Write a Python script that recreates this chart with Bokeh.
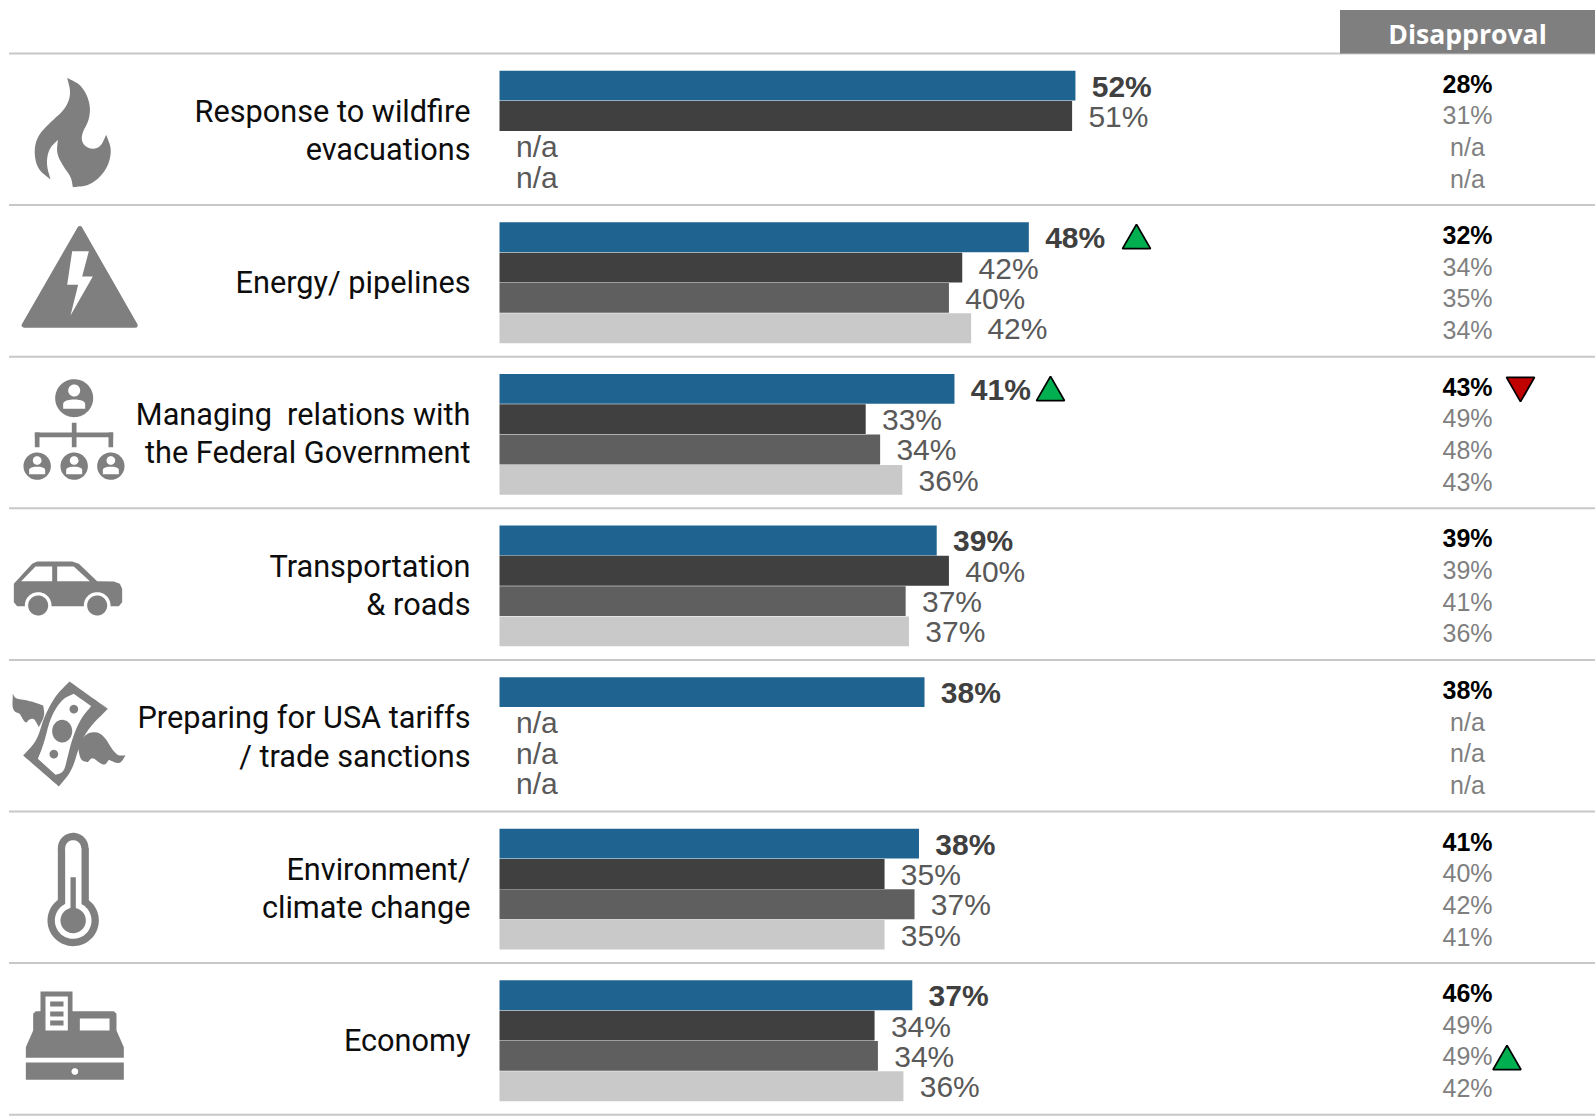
import numpy as np
from bokeh.plotting import figure
from bokeh.models import Range1d
from bokeh.core.properties import value
from bokeh.embed import file_html
from bokeh.resources import INLINE

# ---- data ----
topics = [
    ["Response to wildfire", "evacuations"],
    ["Energy/ pipelines"],
    ["Managing\u00a0 relations with", "the Federal Government"],
    ["Transportation", "& roads"],
    ["Preparing for USA tariffs", "/ trade sanctions"],
    ["Environment/", "climate change"],
    ["Economy"],
]
approval_bars = [
    [51.9, 51.6, None, None],
    [47.7, 41.7, 40.5, 42.5],
    [41.0, 33.0, 34.3, 36.3],
    [39.4, 40.5, 36.6, 36.9],
    [38.3, None, None, None],
    [37.8, 34.7, 37.4, 34.7],
    [37.2, 33.8, 34.1, 36.4],
]
approval_labels = [
    ["52%", "51%", "n/a", "n/a"],
    ["48%", "42%", "40%", "42%"],
    ["41%", "33%", "34%", "36%"],
    ["39%", "40%", "37%", "37%"],
    ["38%", "n/a", "n/a", "n/a"],
    ["38%", "35%", "37%", "35%"],
    ["37%", "34%", "34%", "36%"],
]
disapproval_labels = [
    ["28%", "31%", "n/a", "n/a"],
    ["32%", "34%", "35%", "34%"],
    ["43%", "49%", "48%", "43%"],
    ["39%", "39%", "41%", "36%"],
    ["38%", "n/a", "n/a", "n/a"],
    ["41%", "40%", "42%", "41%"],
    ["46%", "49%", "49%", "42%"],
]
series_colors = ["#1F6391", "#404040", "#5F5F5F", "#C9C9C9"]
header_text = "Disapproval"

# ---- layout helpers (page pixels <-> data) ----
W, H = 1595, 1117
ORIGIN = 0
PX_PER_PCT = 11.097
X0 = 499.0
ROW_TOP = 53.0
ROW_H = 151.6
GRAY = "#7F7F7F"


def X(px):
    return (np.asarray(px, dtype=float) - X0) / PX_PER_PCT


def Y(py):
    return (np.asarray(py, dtype=float) - ROW_TOP) / ROW_H


p = figure(width=W, height=H, output_backend="svg", toolbar_location=None,
           x_range=Range1d(float(X(ORIGIN)), float(X(ORIGIN + W))),
           y_range=Range1d(float(Y(ORIGIN + H)), float(Y(ORIGIN))),
           min_border=0, outline_line_color=None)
p.axis.visible = False
p.grid.visible = False

# rules
p.segment(x0=[float(X(8.5))] * 8, x1=[float(X(1595))] * 8, y0=list(range(8)), y1=list(range(8)),
          line_color="#C8C8C8", line_width=2)

# header
p.quad(left=[float(X(1339.5))], right=[float(X(1595))], top=[float(Y(9.5))], bottom=[float(Y(53))],
       fill_color=GRAY, line_color=None)
p.text(x=[float(X(1467))], y=[float(Y(33))], text=[header_text], text_color="white",
       text_font=value("Open Sans"), text_font_style="bold", text_font_size="26.6px",
       text_align="center", text_baseline="middle")

# bars
BAR_OFF = 17.0 / ROW_H
SLOT = 0.2


def slot_y(r, j):
    return r + BAR_OFF + (j + 0.5) * SLOT


bx, by, bc = [], [], []
bold, norm, na = dict(x=[], y=[], t=[]), dict(x=[], y=[], t=[]), dict(x=[], y=[], t=[])
LABEL_GAP = 16.3 / PX_PER_PCT
for r, (vals, labs) in enumerate(zip(approval_bars, approval_labels)):
    for j, (v, l) in enumerate(zip(vals, labs)):
        yy = slot_y(r, j)
        if v is None:
            na["x"].append(float(X(515.5)))
            na["y"].append(yy + 0.004)
            na["t"].append(l)
            continue
        bx.append(v)
        by.append(yy)
        bc.append(series_colors[j])
        tgt = bold if j == 0 else norm
        tgt["x"].append(v + LABEL_GAP)
        tgt["y"].append(yy + 0.003)
        tgt["t"].append(l)
p.hbar(y=by, left=0, right=bx, height=SLOT * 0.985, fill_color=bc, line_color=None)

for d, col, style in ((bold, "#404040", "bold"), (norm, "#595959", "normal")):
    p.text(x=d["x"], y=d["y"], text=d["t"], text_color=col, text_font=value("Liberation Sans"),
           text_font_style=style, text_font_size="30px", text_align="left", text_baseline="middle")
p.text(x=na["x"], y=na["y"], text=na["t"], text_color="#595959", text_font=value("Liberation Sans"),
       text_font_size="30px", text_align="left", text_baseline="middle")

# disapproval column
DIS_OFF = [0.198, 0.407, 0.615, 0.825]
for style, col, sel in (("bold", "#000000", [0]), ("normal", "#7F7F7F", [1, 2, 3])):
    xs, ys, ts = [], [], []
    for r, labs in enumerate(disapproval_labels):
        for j in sel:
            xs.append(float(X(1467)))
            ys.append(r + DIS_OFF[j])
            ts.append(labs[j])
    p.text(x=xs, y=ys, text=ts, text_color=col, text_font=value("Liberation Sans"), text_font_style=style,
           text_font_size="25px", text_align="center", text_baseline="middle")

# topic labels
tx, ty, tt = [], [], []
for r, lines in enumerate(topics):
    n = len(lines)
    for i, line in enumerate(lines):
        tx.append(float(X(470)))
        ty.append(r + 0.508 + (i - (n - 1) / 2) * 0.252)
        tt.append(line)
p.text(x=tx, y=ty, text=tt, text_color="#0D0D0D", text_font=value("Roboto"), text_font_size="30.7px",
       text_align="right", text_baseline="middle")

# change markers
p.scatter(x=X([1136, 1050, 1506.5]), y=Y([240, 392, 1061]), marker="triangle", size=28,
          fill_color="#00B050", line_color="black", line_width=1.8)
p.scatter(x=X([1520]), y=Y([385]), marker="inverted_triangle", size=28,
          fill_color="#C00000", line_color="black", line_width=1.8)


# ---- icons (decorative shapes, zoomed-crop pixel coordinates / 3) ----
def chaikin(pts, n=3):
    a = np.array(pts, dtype=float)
    for _ in range(n):
        q = 0.75 * a[:-1] + 0.25 * a[1:]
        r = 0.25 * a[:-1] + 0.75 * a[1:]
        m = np.empty((2 * len(q), 2))
        m[0::2] = q
        m[1::2] = r
        a = np.vstack([a[0], m, a[-1]])
    return a


def shape(pts, oy=0, color=GRAY, lw=0):
    a = np.array(pts, dtype=float)
    xs = X(a[:, 0] / 3)
    ys = Y(oy + a[:, 1] / 3)
    p.patch(xs, ys, fill_color=color, line_color=color if lw else None, line_width=lw, line_join="round")


def curved(sections, oy=0, color=GRAY):
    shape(np.vstack([chaikin(s) for s in sections]), oy, color)


def ell(cx, cy, rx, ry=None, oy=0, color=GRAY):
    ry = rx if ry is None else ry
    t = np.linspace(0, 2 * np.pi, 72)
    shape(np.c_[cx + rx * np.cos(t), cy + ry * np.sin(t)], oy, color)


def rect(x0, y0, x1, y1, oy=0, color=GRAY):
    shape([(x0, y0), (x1, y0), (x1, y1), (x0, y1)], oy, color)


def person(cx, cy_head, rh, bw, by0, by1, oy):
    ell(cx, cy_head, rh, oy=oy, color="white")
    t = np.linspace(np.pi, 2 * np.pi, 24)
    top = np.c_[cx + bw * np.cos(t), by0 + bw * 0.4 * np.sin(t)]
    shape(np.vstack([top, [(cx + bw, by1), (cx - bw, by1)]]), oy, "white")


# flame
curved([[(200, 232), (245, 255), (270, 310), (266, 360), (243, 400), (245, 430), (270, 447), (300, 440), (317, 403)],
        [(317, 403), (335, 450), (318, 510), (270, 555), (217, 560)],
        [(217, 560), (212, 530), (190, 500), (168, 460), (172, 418)],
        [(172, 418), (145, 445), (137, 490), (150, 537)],
        [(150, 537), (110, 505), (100, 450), (112, 405), (150, 365), (195, 325), (212, 280), (200, 232)]])

# warning sign
shape([(238, 684), (71, 974), (404, 974)], color=GRAY, lw=5)
shape([(215, 752), (265, 752), (245, 828), (277, 828), (210, 945), (233, 853), (200, 853)], color="white")

# organisation
oy = 370
ell(221, 83, 57, oy=oy)
person(221, 60, 18, 33, 100, 115, oy)
rect(214, 157, 228, 230, oy)
rect(103, 186, 338, 200, oy)
rect(103, 186, 117, 230, oy)
rect(324, 186, 338, 230, oy)
for cx in (110, 221, 331):
    ell(cx, 287, 41, oy=oy)
    person(cx, 270, 13, 24, 298, 311, oy)

# car
shape([(40, 640), (95, 580), (110, 573), (215, 573), (235, 580), (290, 632), (340, 633), (358, 640), (365, 655),
       (365, 695), (355, 707), (50, 707), (40, 695)], oy)
shape([(62, 632), (105, 588), (155, 588), (155, 632)], oy, "white")
shape([(170, 588), (220, 588), (268, 632), (170, 632)], oy, "white")
for cx in (113, 290):
    ell(cx, 705, 40, oy=oy, color="white")
    ell(cx, 705, 30, oy=oy)

# money
oy = 660
curved([[(207, 63), (322, 145)], [(322, 145), (262, 205), (235, 260), (215, 330), (175, 378)],
        [(175, 378), (68, 285)], [(68, 285), (110, 240), (130, 170), (165, 105), (207, 63)]], oy)
curved([[(220, 100), (272, 137)], [(272, 137), (240, 175), (215, 235), (200, 295), (190, 335), (165, 343)],
        [(165, 343), (112, 295)], [(112, 295), (130, 250), (150, 170), (185, 115), (220, 100)]], oy, "white")
ell(220, 146, 13, oy=oy)
ell(185, 212, 30, 34, oy=oy)
ell(160, 281, 13, oy=oy)
curved([[(37, 100), (45, 115), (85, 120), (128, 135)], [(128, 135), (133, 165), (115, 200)],
        [(115, 200), (100, 172), (85, 178)], [(85, 178), (75, 190), (58, 160)], [(58, 160), (35, 150), (37, 100)]], oy)
curved([[(232, 258), (258, 215), (305, 215), (345, 285), (375, 285)], [(375, 285), (358, 312), (325, 298)],
        [(325, 298), (312, 316), (292, 303)], [(292, 303), (275, 290), (262, 305)], [(262, 305), (240, 300), (232, 258)]], oy)

# thermometer
ell(218, 563, 46, oy=oy)
rect(172, 563, 265, 760, oy)
ell(218, 780, 77, oy=oy)
ell(218, 563, 24, oy=oy, color="white")
rect(194, 563, 243, 760, oy, "white")
ell(218, 780, 55, oy=oy, color="white")
rect(210, 650, 226, 780, oy)
ell(218, 780, 38, oy=oy)

# cash register
shape([(106, 1052), (340, 1052), (348, 1060), (348, 1110), (370, 1160), (370, 1192), (76, 1192), (76, 1160),
       (98, 1110), (98, 1060)], oy)
rect(120, 993, 216, 1060, oy)
rect(135, 1008, 202, 1110, oy, "white")
for yy in (1023, 1053, 1080):
    rect(149, yy, 189, yy + 15, oy)
rect(238, 1074, 327, 1110, oy, "white")
rect(76, 1206, 370, 1258, oy)
ell(223, 1233, 10, oy=oy, color="white")

open("out.html", "w").write(file_html(p, INLINE))
